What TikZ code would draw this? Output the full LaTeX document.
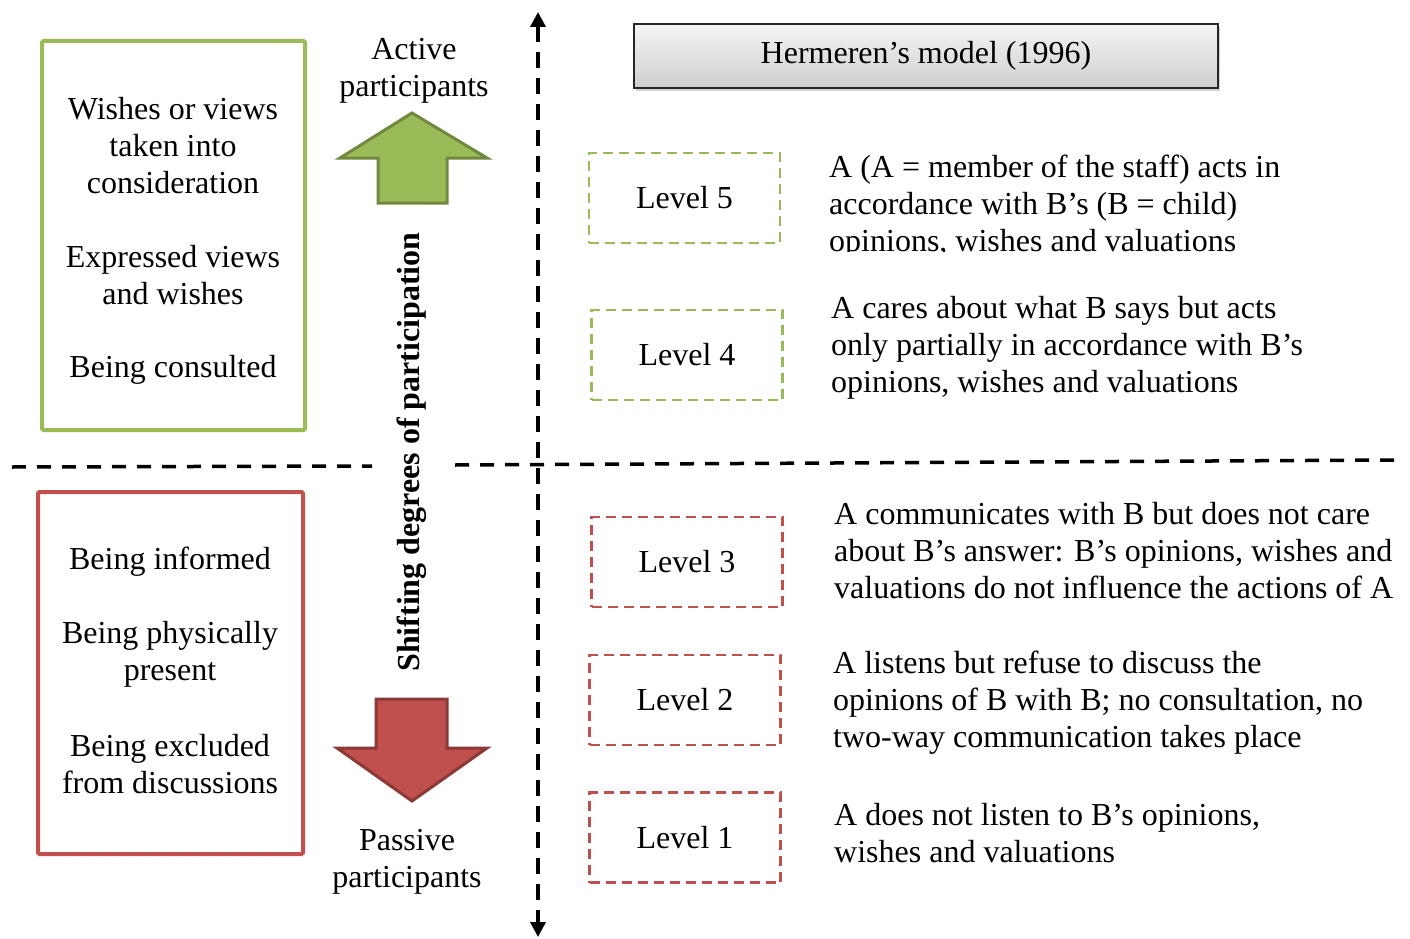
\documentclass[tikz,border=0pt]{standalone}
\usepackage{fontspec}
\setmainfont{Liberation Serif}
\usetikzlibrary{arrows.meta,shadows}

\definecolor{gfill}{HTML}{9BBB59}
\definecolor{gline}{HTML}{71893F}
\definecolor{rfill}{HTML}{C0504D}
\definecolor{rline}{HTML}{8C3836}

\tikzset{
  txt/.style={inner sep=0pt, align=center, font=\fontsize{32}{37}\selectfont},
  desc/.style={inner sep=0pt, align=left, anchor=west, font=\fontsize{32}{37}\selectfont},
  bigbox/.style={line width=4pt, rounded corners=1.5pt},
  lvl/.style={draw, line width=2.8pt, dash pattern=on 10pt off 6pt,
    minimum width=191pt, minimum height=90pt, inner sep=0pt,
    font=\fontsize{32}{37}\selectfont},
  axisline/.style={line width=3.5pt, dash pattern=on 16pt off 10pt},
  splitline/.style={line width=3.5pt, dash pattern=on 14pt off 11pt},
}

\begin{document}
\begin{tikzpicture}[x=1pt,y=-1pt]
\useasboundingbox (0,0) rectangle (1410,939);

% participation axis and level split
\coordinate (axtop) at (538,12);
\coordinate (axbot) at (538,937);
\draw[axisline, {Triangle[width=15pt,length=15pt]}-{Triangle[width=15pt,length=15pt]}] (axtop) -- (axbot);
\coordinate (sl1) at (12,467);
\coordinate (sl2) at (372,466);
\coordinate (sr1) at (455,465);
\coordinate (sr2) at (1400,460);
\draw[splitline] (sl1) -- (sl2);
\draw[splitline] (sr1) -- (sr2);

% title
\node[draw=black!85, line width=1.5pt, top color=gray!8, bottom color=gray!38,
      drop shadow={shadow xshift=2pt, shadow yshift=-3pt, opacity=0.35},
      minimum width=584pt, minimum height=64pt, inner sep=0pt,
      font=\fontsize{32}{37}\selectfont] (title) at (926,56) {Hermeren’s model (1996)};

% left summary boxes
\draw[bigbox, draw=gfill] (42,41) rectangle (305,430);
\node[txt] (g1) at (173,146) {Wishes or views\\taken into\\consideration};
\node[txt] (g2) at (173,275) {Expressed views\\and wishes};
\node[txt] (g3) at (173,370) {Being consulted};

\draw[bigbox, draw=rfill] (38,492) rectangle (303,854);
\node[txt] (r1) at (170,562) {Being informed};
\node[txt] (r2) at (170,654) {Being physically\\present};
\node[txt] (r3) at (170,764) {Being excluded\\from discussions};

% direction arrows
\draw[line width=3pt, draw=gline, fill=gfill, line join=miter]
  (412,113) -- (487,158) -- (447,158) -- (447,203) -- (378,203) -- (378,158) -- (340,158) -- cycle;
\draw[line width=3pt, draw=rline, fill=rfill, line join=miter]
  (376,699) -- (447,699) -- (447,748) -- (487,748) -- (412,801) -- (337,748) -- (376,748) -- cycle;

\node[txt] (act) at (414,70.5) {Active\\participants};
\node[txt] (pas) at (407,862) {Passive\\participants};
\node[txt, rotate=90, font=\fontsize{32}{37}\selectfont\bfseries] (shift) at (412,452) {Shifting degrees of participation};

% levels
\node[lvl, draw=gfill] (L5) at (684.5,198) {Level 5};
\node[lvl, draw=gfill] (L4) at (687,355) {Level 4};
\node[lvl, draw=rfill] (L3) at (687,562) {Level 3};
\node[lvl, draw=rfill] (L2) at (685,700) {Level 2};
\node[lvl, draw=rfill] (L1) at (685,837.5) {Level 1};

% level descriptions
\begin{scope}
  \clip (800,130) rectangle (1410,251);
  \node[desc] (D5) at (829,207) {A (A = member of the staff) acts in\\accordance with B’s (B = child)\\opinions, wishes and valuations};
\end{scope}
\node[desc] (D4) at (831,348) {A cares about what B says but acts\\only partially in accordance with B’s\\opinions, wishes and valuations};
\node[desc] (D3) at (834,551) {A communicates with B but does not care\\about B’s answer: B’s opinions, wishes and\\valuations do not influence the actions of A};
\node[desc] (D2) at (833,703) {A listens but refuse to discuss the\\opinions of B with B; no consultation, no\\two-way communication takes place};
\node[desc] (D1) at (834,833) {A does not listen to B’s opinions,\\wishes and valuations};
\end{tikzpicture}
\end{document}
